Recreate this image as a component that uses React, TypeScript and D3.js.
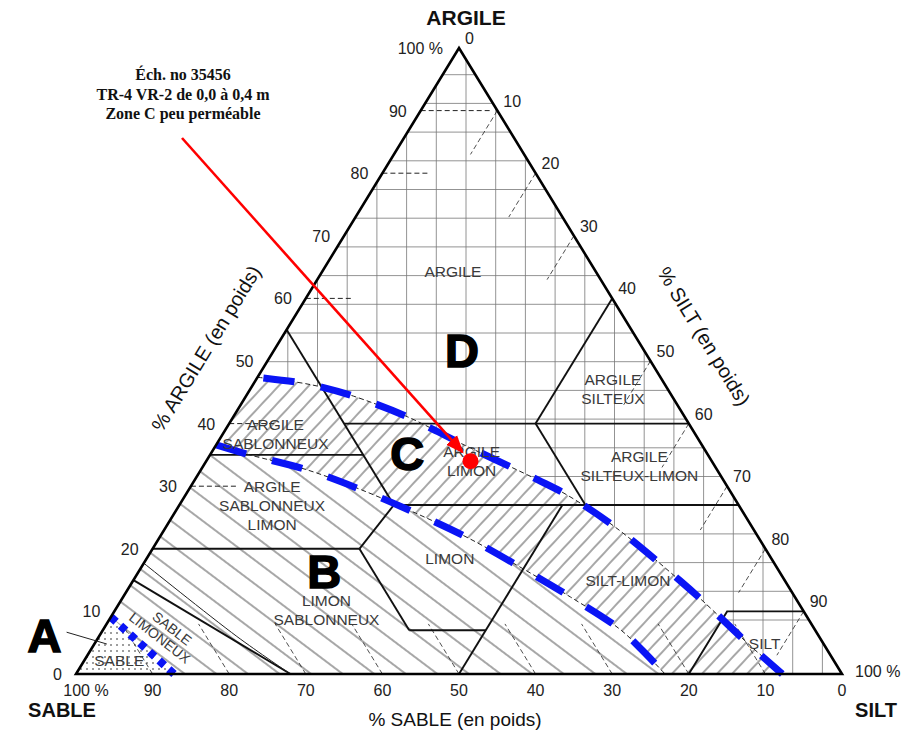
import React from 'react'
import * as d3 from 'd3'

type TP = [number, number] // [sand %, clay %], silt is what is left

const W = 920
const H = 731

// axis ticks
const sandTicks = [100, 90, 80, 70, 60, 50, 40, 30, 20, 10, 0]
const clayTicks = [100, 90, 80, 70, 60, 50, 40, 30, 20, 10, 0]
const siltTicks = [0, 10, 20, 30, 40, 50, 60, 70, 80, 90, 100]

// short dashed guide lines
const clayGuides = [90, 80, 60, 40, 30]
const siltGuides = [10, 20, 30, 50, 60, 70, 80, 90]
const sandGuides = [90, 80, 70, 60, 50, 40, 30, 20, 10]

// texture class boundaries
const classLines: TP[][] = [
  [[45, 55], [45, 27]],
  [[45, 40], [0, 40]],
  [[0, 60], [20, 40]],
  [[20, 40], [20, 27]],
  [[65, 35], [45, 35]],
  [[45, 27], [0, 27]],
  [[45, 27], [53, 20]],
  [[80, 20], [53, 20]],
  [[53, 20], [53, 7]],
  [[53, 7], [43, 7]],
  [[23, 27], [50, 0]],
  [[85, 15], [72, 0]],
  [[20, 0], [10, 10], [0, 10]],
]
const thinLines: TP[][] = [
  [[82.3, 17.7], [76, 6], [72, 0]],
]

// zone limits (blue dashed)
const upperCurve: TP[] = [
  [52.6, 47.4], [47.8, 46.6], [44.9, 45.8], [41.6, 44.4], [36.2, 41.1], [31.4, 36.9],
  [24.2, 31], [21.6, 28.6], [17.9, 23.5], [13.6, 14.7], [12.2, 11.3], [9.9, 5], [7.8, 0],
]
const lowerCurve: TP[] = [
  [63.4, 36.6], [59.8, 35], [53.5, 32.6], [48, 29.4], [42.8, 25.7], [37.9, 21.7],
  [33.5, 17.1], [29.3, 12.3], [25.5, 7.3], [24.3, 4.2], [23.1, 0],
]
const sandCurve: TP[] = [[90.9, 9.1], [87.2, 0]]

// sample
const sample: TP = [31.5, 34]
const sampleNote = ['Éch. no 35456', 'TR-4 VR-2 de 0,0 à 0,4 m', 'Zone C peu perméable']

// class names and their centres
const classNames = [
  ['ARGILE'],
  ['ARGILE', 'SILTEUX'],
  ['ARGILE', 'SABLONNEUX'],
  ['ARGILE', 'SILTEUX-LIMON'],
  ['ARGILE', 'LIMON'],
  ['ARGILE', 'SABLONNEUX', 'LIMON'],
  ['LIMON'],
  ['LIMON', 'SABLONNEUX'],
  ['SILT-LIMON'],
  ['SILT'],
  ['SABLE'],
]
const classCentres: TP[] = [
  [18.7, 64.2], [7.2, 45.4], [54.8, 38.3], [9.9, 33.1], [31.4, 33.9], [61, 26.8],
  [42, 18.4], [62.2, 10.2], [20.5, 14.9], [7.7, 4.8], [93.3, 2.1],
]
const loamySand = ['SABLE', 'LIMONEUX']
const loamySandCentre: TP = [84.8, 6.4]

const zoneLetters = ['A', 'B', 'C', 'D']
const zoneCentres: TP[] = [[101, 6.2], [59.4, 16.4], [39.1, 35.3], [23.7, 51.8]]

// the triangle as it sits on the page
const xScale = d3.scaleLinear().domain([0, 100]).range([76, 842])
const yScale = d3.scaleLinear().domain([0, 100]).range([674, 48])
const tx = (d: TP) => xScale(100 - d[0] - d[1] / 2)
const ty = (d: TP) => yScale(d[1])

const SANS = '"Liberation Sans", Arial, Helvetica, sans-serif'
const SERIF = '"Liberation Serif", "Times New Roman", serif'
const BLUE = '#0a14f5'

export default function App() {
  const straight = d3.line<TP>().x(tx).y(ty)
  const smooth = d3.line<TP>().x(tx).y(ty).curve(d3.curveCatmullRom.alpha(0.5))
  const toL = (p: TP[]) => p.map(d => `L${tx(d)},${ty(d)}`).join('')

  const upperD = smooth(upperCurve) as string
  const lowerD = smooth(lowerCurve) as string
  const lowerRev = (smooth([...lowerCurve].reverse()) as string).replace(/^M/, 'L')
  const sandD = straight(sandCurve) as string
  const sandRev = (straight([...sandCurve].reverse()) as string).replace(/^M/, 'L')

  const zoneDPath = upperD + toL([[0, 0], [0, 100]]) + 'Z'
  const zoneCPath = upperD + lowerRev + 'Z'
  const zoneBPath = lowerD + sandRev + 'Z'
  const zoneAPath = sandD + toL([[100, 0]]) + 'Z'
  const frame = straight([[100, 0], [0, 0], [0, 100]]) + 'Z'

  // background graph paper of the scan
  const gridX = d3.range(-14, 14).map(k => 466 + k * 29.7)
  const gridY = d3.range(0, 21).map(k => 620 - k * 28.7)

  const sx = tx(sample)
  const sy = ty(sample)
  const noteX = 183
  const arrowFrom = [182, 138]
  const ang = Math.atan2(sy - arrowFrom[1], sx - arrowFrom[0])
  const arrowTo = [sx - Math.cos(ang) * 12, sy - Math.sin(ang) * 12]

  return (
    <svg width={W} height={H} style={{ position: 'absolute', left: 0, top: 0, background: '#fff' }}>
      <defs>
        <pattern id="hatchC" width="12" height="11" patternUnits="userSpaceOnUse" patternTransform="rotate(-47)">
          <line x1="0" y1="5" x2="12" y2="5" stroke="#222" strokeWidth="0.8" />
        </pattern>
        <pattern id="hatchB" width="20" height="19" patternUnits="userSpaceOnUse" patternTransform="rotate(37)">
          <line x1="0" y1="9" x2="20" y2="9" stroke="#222" strokeWidth="0.8" />
        </pattern>
        <pattern id="dots" width="6" height="6" patternUnits="userSpaceOnUse">
          <circle cx="3" cy="3" r="0.8" fill="#222" />
        </pattern>
        <clipPath id="clipD"><path d={zoneDPath} /></clipPath>
        <marker id="arrow" viewBox="0 0 10 10" refX="9" refY="5" markerWidth="7" markerHeight="7" orient="auto">
          <path d="M0,1 L10,5 L0,9 Z" fill="#ff0000" />
        </marker>
      </defs>

      <rect width={W} height={H} fill="#fff" />

      {/* zone fills */}
      <path d={zoneCPath} fill="url(#hatchC)" />
      <path d={zoneBPath} fill="url(#hatchB)" />
      <path d={zoneAPath} fill="url(#dots)" />

      {/* grid in zone D */}
      <g clipPath="url(#clipD)" stroke="#777" strokeWidth={0.8}>
        {gridX.map((x, i) => <line key={'gx' + i} x1={x} x2={x} y1={0} y2={H} />)}
        {gridY.map((y, i) => <line key={'gy' + i} x1={0} x2={W} y1={y} y2={y} />)}
      </g>

      {/* dashed guides */}
      <g stroke="#222" strokeWidth={1} strokeDasharray="5 3" fill="none">
        {clayGuides.map(c => (
          <line key={'cg' + c} x1={tx([100 - c, c])} y1={ty([100 - c, c])}
            x2={tx([100 - c - (c === 90 ? 9 : 6), c])} y2={ty([100 - c, c])} />
        ))}
        {siltGuides.map(s => (
          <line key={'sg' + s} x1={tx([0, 100 - s])} y1={ty([0, 100 - s])}
            x2={tx([7, 93 - s])} y2={ty([7, 93 - s])} strokeWidth={0.8} />
        ))}
        {sandGuides.map(s => (
          <line key={'dg' + s} x1={tx([s, 0])} y1={ty([s, 0])}
            x2={tx([s, 8])} y2={ty([s, 8])} strokeWidth={0.8} />
        ))}
      </g>

      {/* class boundaries */}
      <g stroke="#111" strokeWidth={1.9} fill="none">
        {classLines.map((l, i) => <path key={'cl' + i} d={straight(l) as string} />)}
      </g>
      <g stroke="#222" strokeWidth={1} fill="none">
        {thinLines.map((l, i) => <path key={'tl' + i} d={smooth(l) as string} />)}
      </g>

      {/* zone limits */}
      <path d={upperD} fill="none" stroke="#222" strokeWidth={1} strokeDasharray="5 3" />
      <path d={lowerD} fill="none" stroke="#222" strokeWidth={1} strokeDasharray="5 3" />
      <path d={upperD} fill="none" stroke={BLUE} strokeWidth={7} strokeDasharray="31 27" strokeDashoffset={-6} />
      <path d={lowerD} fill="none" stroke={BLUE} strokeWidth={7} strokeDasharray="31 27" />
      <path d={sandD} fill="none" stroke={BLUE} strokeWidth={8} strokeDasharray="7 6" />

      <path d={frame} fill="none" stroke="#000" strokeWidth={2.6} strokeLinejoin="miter" />

      {/* class names */}
      <g fontFamily={SANS} fontSize={15.5} fill="#3a3a3a" textAnchor="middle">
        {classNames.map((lines, i) => {
          const x = tx(classCentres[i])
          const y0 = ty(classCentres[i]) - (lines.length - 1) * 9.5 + 5
          return (
            <text key={'cn' + i} x={x} y={y0}>
              {lines.map((t, j) => <tspan key={j} x={x} dy={j === 0 ? 0 : 19}>{t}</tspan>)}
            </text>
          )
        })}
        <text fontSize={14}
          transform={`translate(${tx(loamySandCentre)},${ty(loamySandCentre)}) rotate(38)`}>
          <tspan x={0} dy={-2}>{loamySand[0]}</tspan>
          <tspan x={-4} dy={15}>{loamySand[1]}</tspan>
        </text>
      </g>

      {/* zone letters */}
      <g fontFamily={SANS} fontWeight="bold" fontSize={47} fill="#000" stroke="#000" strokeWidth={1.6} textAnchor="middle">
        {zoneLetters.map((z, i) => (
          <text key={z} x={tx(zoneCentres[i])} y={ty(zoneCentres[i]) + 17}>{z}</text>
        ))}
      </g>
      <line x1={tx(zoneCentres[0]) + 22} y1={ty(zoneCentres[0]) - 3} x2={tx(sandCurve[0]) - 4} y2={ty(sandCurve[0]) + 27}
        stroke="#222" strokeWidth={1} />

      {/* sample */}
      <line x1={arrowFrom[0]} y1={arrowFrom[1]} x2={arrowTo[0]} y2={arrowTo[1]}
        stroke="#ff0000" strokeWidth={2.6} markerEnd="url(#arrow)" />
      <circle cx={sx} cy={sy} r={8} fill="#ff0000" />
      <g fontFamily={SERIF} fontWeight="bold" fontSize={16} fill="#111" textAnchor="middle">
        {sampleNote.map((t, i) => <text key={i} x={noteX} y={80 + i * 19.5}>{t}</text>)}
      </g>

      {/* tick labels */}
      <g fontFamily={SANS} fontSize={16} fill="#222">
        {sandTicks.map(s => (
          <text key={'st' + s} x={tx([s, 0]) + (s === 100 ? 10 : 0)} y={696} textAnchor="middle">
            {s === 100 ? '100 %' : s}
          </text>
        ))}
        {clayTicks.map(c => (
          <text key={'ct' + c} x={tx([100 - c, c]) - (c === 100 ? 16 : 14)} y={ty([100 - c, c]) + 6} textAnchor="end">
            {c === 100 ? '100 %' : c}
          </text>
        ))}
        {siltTicks.map(s => (
          <text key={'it' + s} x={tx([0, 100 - s]) + (s === 100 ? 13 : 6)} y={ty([0, 100 - s]) + (s === 100 ? 3 : -4)}>
            {s === 100 ? '100 %' : s}
          </text>
        ))}
      </g>

      {/* titles */}
      <g fontFamily={SANS} fill="#111">
        <text x={466} y={25} fontSize={21} fontWeight="bold" textAnchor="middle">ARGILE</text>
        <text x={62} y={717} fontSize={20} fontWeight="bold" textAnchor="middle">SABLE</text>
        <text x={876} y={717} fontSize={20} fontWeight="bold" textAnchor="middle">SILT</text>
        <text x={455} y={726} fontSize={19} textAnchor="middle">% SABLE (en poids)</text>
        <text transform="translate(212,352) rotate(-58.5)" fontSize={20} textAnchor="middle">% ARGILE (en poids)</text>
        <text transform="translate(698,340) rotate(58.5)" fontSize={20} textAnchor="middle">% SILT (en poids)</text>
      </g>
    </svg>
  )
}
